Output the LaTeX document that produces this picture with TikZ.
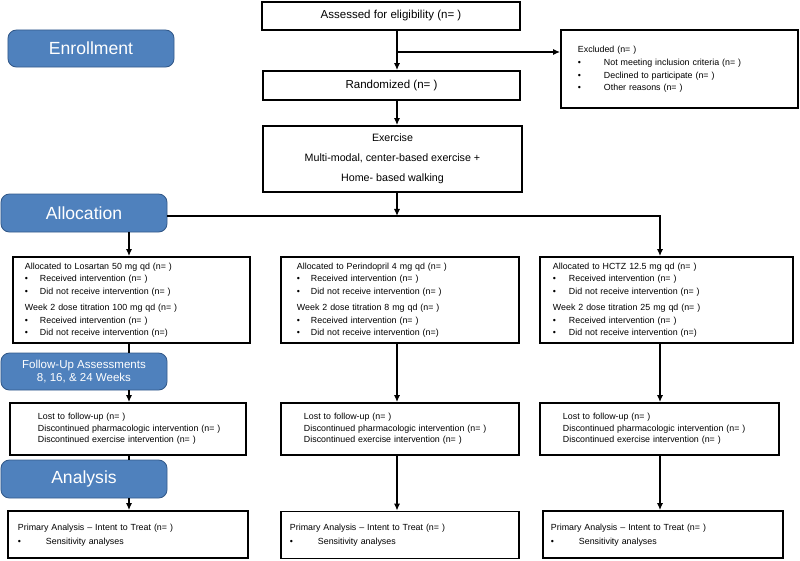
\documentclass[tikz,border=0pt]{standalone}
\usepackage{fontspec}
\setmainfont{Liberation Sans}
\usetikzlibrary{arrows.meta}

\definecolor{pillblue}{RGB}{79,129,189}
\definecolor{pilledge}{RGB}{52,90,138}

\newcommand{\bul}[1]{\makebox[#1][l]{\textbullet}}
\newcommand{\rows}[1]{\begin{tabular}{@{}l@{}}#1\end{tabular}}

\begin{document}
\begin{tikzpicture}[x=0.025cm,y=-0.025cm,
                    box/.style={draw,line width=1.3pt},
                    txtbox/.style 2 args={box,text width=#1,minimum height=#2,align=left,inner ysep=0pt,
                                          font=\fontsize{6.3}{8.9}\selectfont},
                    pill/.style={draw=pilledge,fill=pillblue,line width=0.6pt,rounded corners=6pt,
                                 text=white,minimum width=4.15cm,align=center,
                                 font=\fontsize{12.5}{14}\selectfont},
                    arr/.style={-{Latex[length=5pt,width=4.5pt]},line width=1.3pt},
                    link/.style={line width=1.3pt}]

  \useasboundingbox (0,0) rectangle (800,560);

  \coordinate (lc) at (129,0);
  \coordinate (mc) at (397,0);
  \coordinate (rc) at (660,0);
  \coordinate (hl) at (0,216);
  \coordinate (br) at (397,52);

  \node[box,minimum width=6.45cm,minimum height=0.7cm,font=\fontsize{8.2}{10}\selectfont] (assess) at (391,16) {Assessed for eligibility (n= )};
  \node[pill,minimum height=0.925cm] (enroll) at (91,48.5) {Enrollment};
  \node[txtbox={5.075cm}{1.95cm},inner xsep=0.425cm,font=\fontsize{6.3}{9.2}\selectfont] (excl) at (679.5,69)
    {\rows{Excluded (n= )\\ \bul{0.65cm}Not meeting inclusion criteria (n= )\\ \bul{0.65cm}Declined to participate (n= )\\ \bul{0.65cm}Other reasons (n= )}};
  \node[box,minimum width=6.425cm,minimum height=0.725cm,font=\fontsize{8.2}{10}\selectfont] (rand) at (391.5,85.5) {Randomized (n= )};
  \node[box,minimum width=6.475cm,minimum height=1.65cm,align=center,font=\fontsize{7.6}{14.2}\selectfont] (exer) at (392.5,159)
    {Exercise\\Multi-modal, center-based exercise +\\Home- based walking};
  \node[pill,minimum height=0.95cm] (alloc) at (84,213) {Allocation};

  \node[txtbox={5.325cm}{2.15cm},inner xsep=0.3cm] (los) at (131.5,300)
    {\rows{Allocated to Losartan 50 mg qd (n= )\\ \bul{0.375cm}Received intervention (n= )\\ \bul{0.375cm}Did not receive intervention (n= )\\[3pt]
     Week 2 dose titration 100 mg qd (n= )\\ \bul{0.375cm}Received intervention (n= )\\ \bul{0.375cm}Did not receive intervention (n=)}};
  \node[txtbox={5.15cm}{2.15cm},inner xsep=0.4cm] (per) at (400,300)
    {\rows{Allocated to Perindopril 4 mg qd (n= )\\ \bul{0.35cm}Received intervention (n= )\\ \bul{0.35cm}Did not receive intervention (n= )\\[3pt]
     Week 2 dose titration 8 mg qd (n= )\\ \bul{0.35cm}Received intervention (n= )\\ \bul{0.35cm}Did not receive intervention (n=)}};
  \node[txtbox={5.675cm}{2.15cm},inner xsep=0.325cm] (hctz) at (666.5,300)
    {\rows{Allocated to HCTZ 12.5 mg qd (n= )\\ \bul{0.4cm}Received intervention (n= )\\ \bul{0.4cm}Did not receive intervention (n= )\\[3pt]
     Week 2 dose titration 25 mg qd (n= )\\ \bul{0.4cm}Received intervention (n= )\\ \bul{0.4cm}Did not receive intervention (n=)}};

  \node[pill,minimum height=0.925cm,font=\fontsize{8.2}{9.5}\selectfont] (fup) at (84,371.5) {Follow-Up Assessments\\8, 16, \& 24 Weeks};

  \node[txtbox={4.5cm}{1.3cm},inner xsep=0.7cm,font=\fontsize{6.3}{8.2}\selectfont] (fu1) at (128,429)
    {\rows{Lost to follow-up (n= )\\ Discontinued pharmacologic intervention (n= )\\ Discontinued exercise intervention (n= )}};
  \node[txtbox={4.8cm}{1.3cm},inner xsep=0.575cm,font=\fontsize{6.3}{8.2}\selectfont] (fu2) at (400,429)
    {\rows{Lost to follow-up (n= )\\ Discontinued pharmacologic intervention (n= )\\ Discontinued exercise intervention (n= )}};
  \node[txtbox={4.825cm}{1.3cm},inner xsep=0.575cm,font=\fontsize{6.3}{8.2}\selectfont] (fu3) at (659.5,429)
    {\rows{Lost to follow-up (n= )\\ Discontinued pharmacologic intervention (n= )\\ Discontinued exercise intervention (n= )}};

  \node[pill,minimum height=0.95cm] (anp) at (84,479) {Analysis};

  \node[txtbox={5.5cm}{1.175cm},inner xsep=0.25cm,font=\fontsize{6.3}{10}\selectfont] (an1) at (128,534.5)
    {\rows{Primary Analysis -- Intent to Treat (n= )\\ \bul{0.7cm}Sensitivity analyses}};
  \node[txtbox={5.5cm}{1.175cm},inner xsep=0.225cm,font=\fontsize{6.3}{10}\selectfont] (an2) at (400,535)
    {\rows{Primary Analysis -- Intent to Treat (n= )\\ \bul{0.7cm}Sensitivity analyses}};
  \node[txtbox={5.6cm}{1.175cm},inner xsep=0.2cm,font=\fontsize{6.3}{10}\selectfont] (an3) at (663,534.5)
    {\rows{Primary Analysis -- Intent to Treat (n= )\\ \bul{0.7cm}Sensitivity analyses}};

  \draw[arr] (assess.south -| mc) -- (rand.north -| mc);
  \draw[arr] (br) -- (br -| excl.west);
  \draw[arr] (rand.south -| mc) -- (exer.north -| mc);
  \draw[arr] (exer.south -| mc) -- (hl -| mc);
  \draw[arr] (alloc.east |- hl) -- (hl -| rc) -- (hctz.north -| rc);
  \draw[arr] (alloc.south -| lc) -- (los.north -| lc);
  \draw[link] (los.south -| lc) -- (fup.north -| lc);
  \draw[arr] (fup.south -| lc) -- (fu1.north -| lc);
  \draw[link] (fu1.south -| lc) -- (anp.north -| lc);
  \draw[arr] (anp.south -| lc) -- (an1.north -| lc);
  \draw[arr] (per.south -| mc) -- (fu2.north -| mc);
  \draw[arr] (fu2.south -| mc) -- (an2.north -| mc);
  \draw[arr] (hctz.south -| rc) -- (fu3.north -| rc);
  \draw[arr] (fu3.south -| rc) -- (an3.north -| rc);
\end{tikzpicture}
\end{document}
